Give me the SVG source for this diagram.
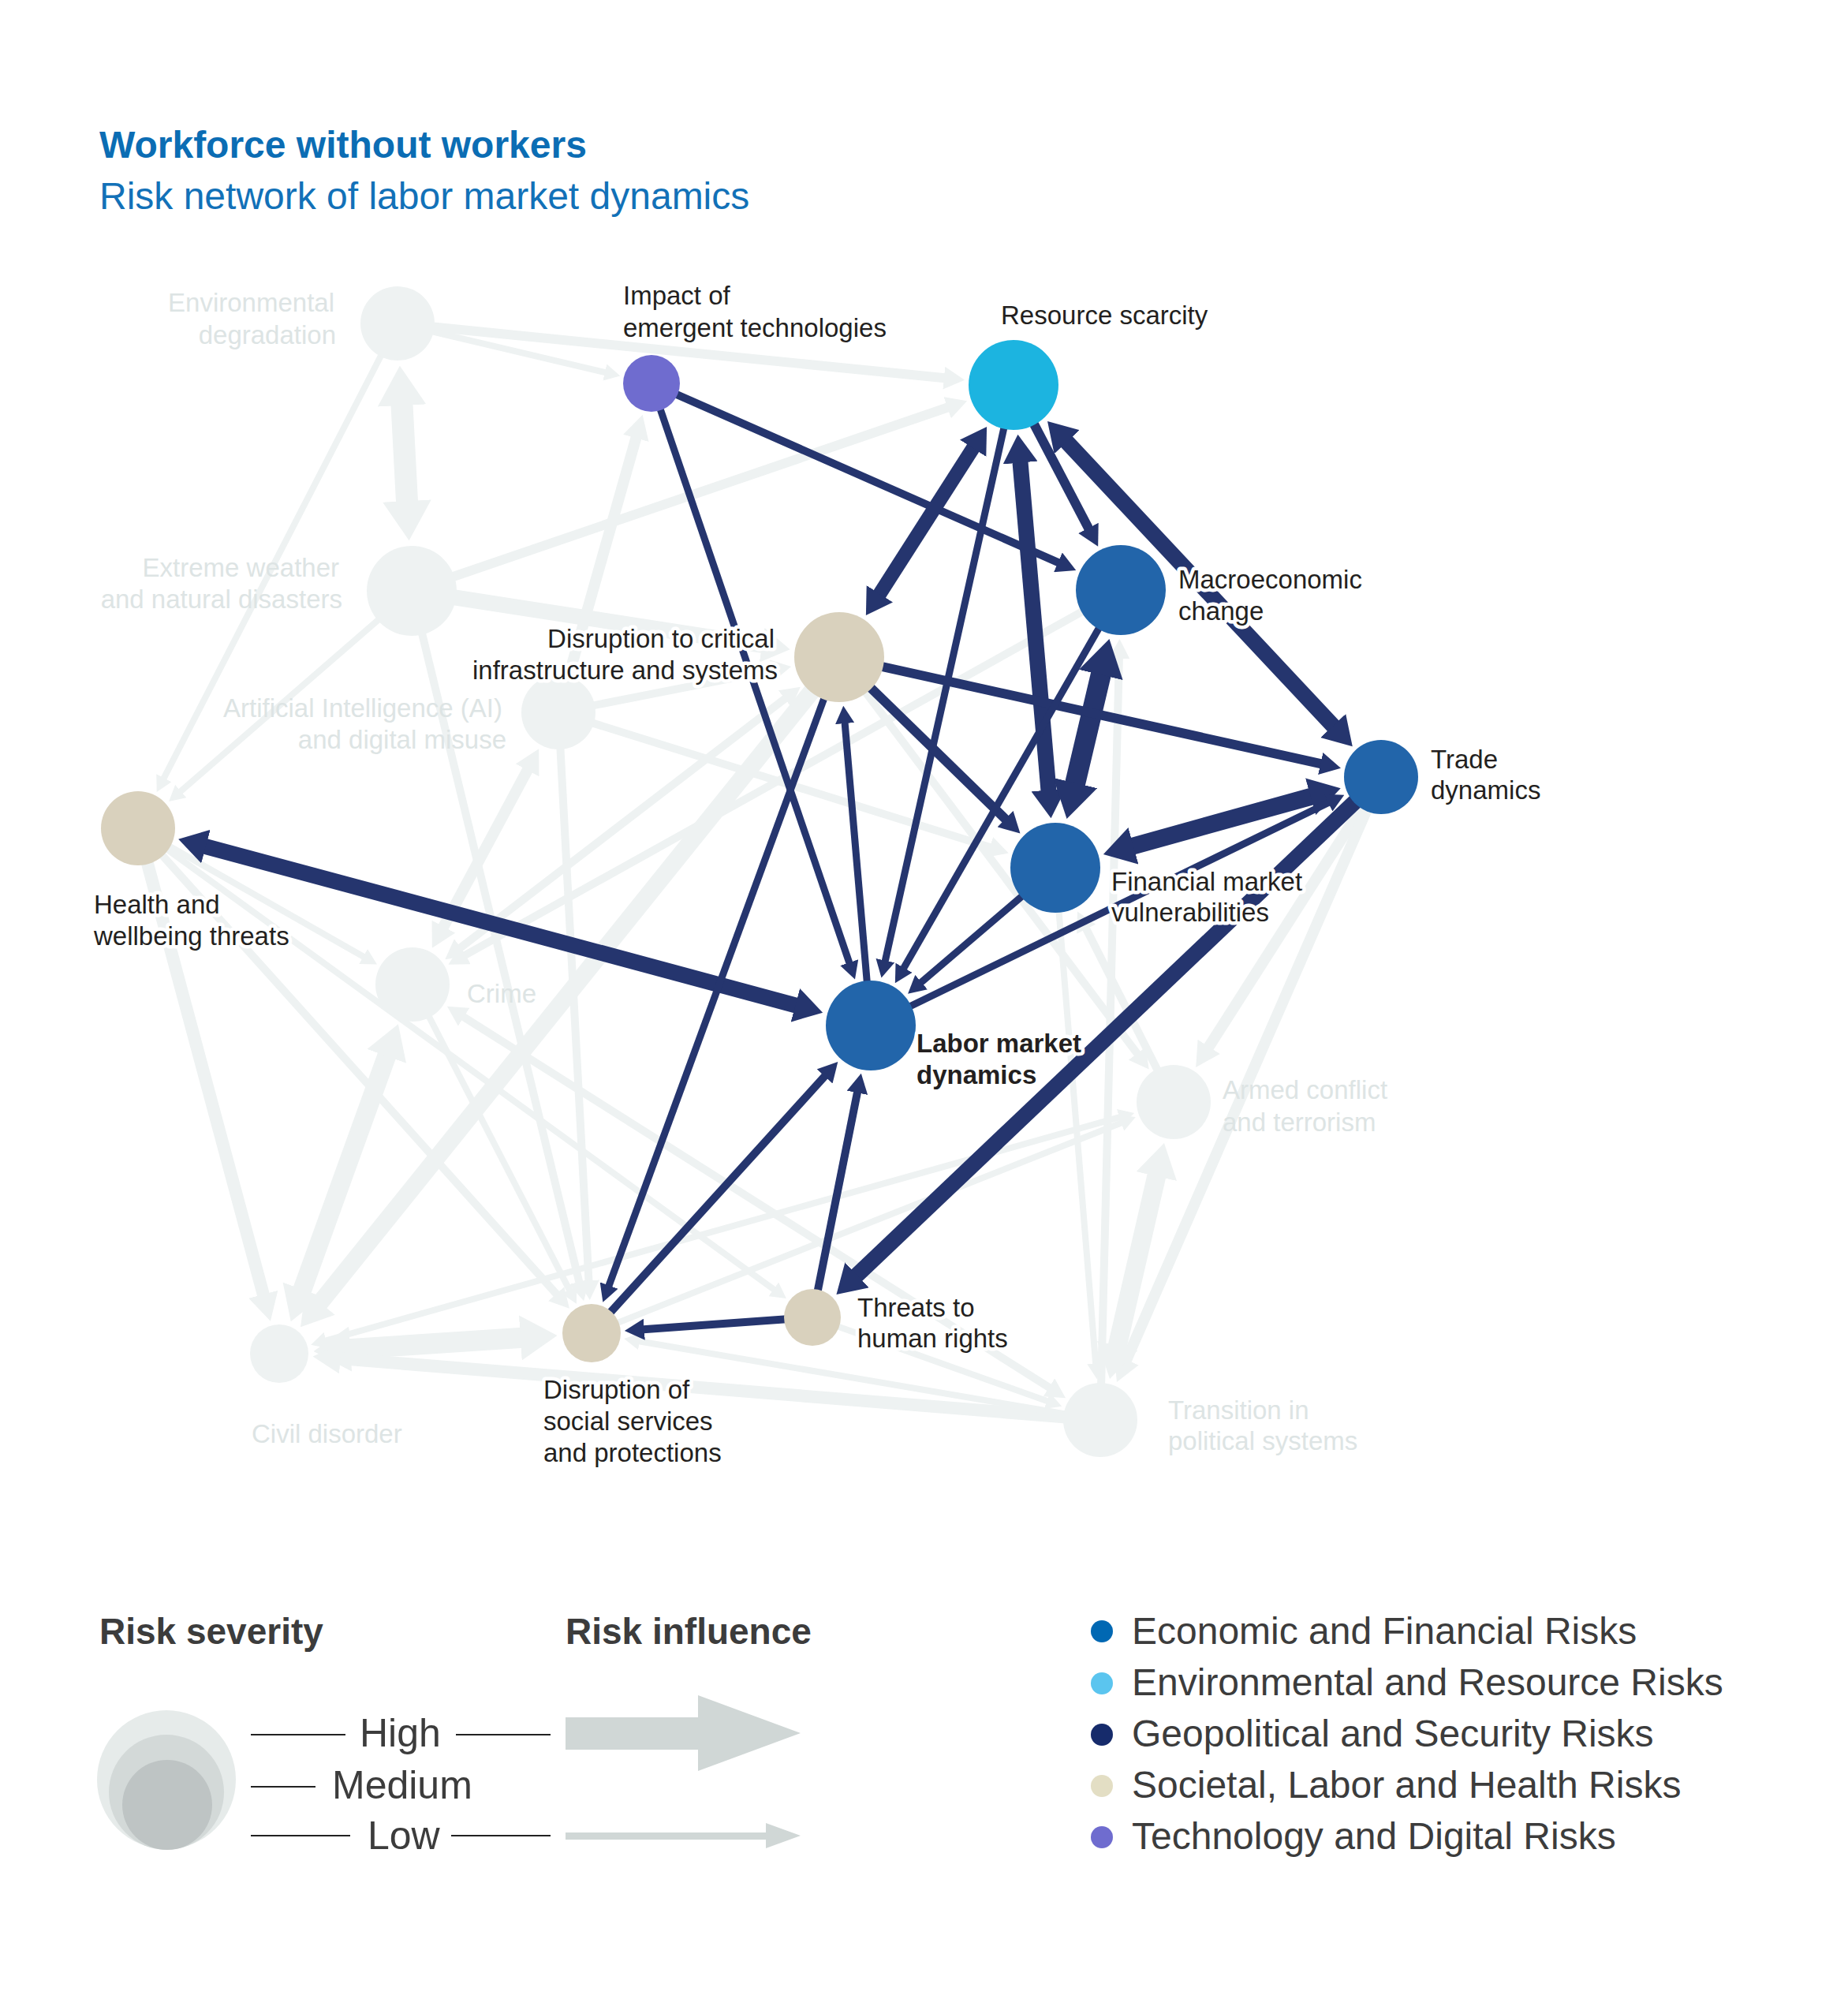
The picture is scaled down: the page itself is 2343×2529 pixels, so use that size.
<svg xmlns="http://www.w3.org/2000/svg" width="2343" height="2529" viewBox="0 0 2343 2529">
<style>
text{font-family:"Liberation Sans",Arial,sans-serif}
.t1{font-size:48px;font-weight:bold;fill:#0B6DB4}
.t2{font-size:48px;fill:#1271B8}
.lbl{font-size:33px;fill:#231F20;stroke:#fff;stroke-width:9px;stroke-linejoin:round;paint-order:stroke}
.lbb{font-weight:bold}
.lbg{font-size:33px;fill:#DDE4E4}
.g{stroke:#EEF2F2;fill:none}
.d{stroke:#25356E;fill:none}
.ng{fill:#EEF2F2}
.ne{fill:#2265AA}
.ns{fill:#D9D1BD}
.nr{fill:#1CB4E0}
.nt{fill:#6F6CCF}
.lh{font-size:46px;font-weight:bold;fill:#3C3C3C}
.lt{font-size:48px;fill:#3C3C3C}
.ls{font-size:50px;fill:#3C3C3C}
.rule{stroke:#222;stroke-width:2}
</style>
<defs>
<marker id="gS" viewBox="0 0 2.5 2.7" refX="0.1" refY="1.35" markerWidth="2.5" markerHeight="2.7" markerUnits="strokeWidth" orient="auto-start-reverse"><path d="M0,0L2.5,1.35L0,2.7Z" fill="#EEF2F2"/></marker>
<marker id="gM" viewBox="0 0 2.2 2.4" refX="0.1" refY="1.2" markerWidth="2.2" markerHeight="2.4" markerUnits="strokeWidth" orient="auto-start-reverse"><path d="M0,0L2.2,1.2L0,2.4Z" fill="#EEF2F2"/></marker>
<marker id="gL" viewBox="0 0 1.8 2.2" refX="0.1" refY="1.1" markerWidth="1.8" markerHeight="2.2" markerUnits="strokeWidth" orient="auto-start-reverse"><path d="M0,0L1.8,1.1L0,2.2Z" fill="#EEF2F2"/></marker>
<marker id="dS" viewBox="0 0 2.5 2.7" refX="0.1" refY="1.35" markerWidth="2.5" markerHeight="2.7" markerUnits="strokeWidth" orient="auto-start-reverse"><path d="M0,0L2.5,1.35L0,2.7Z" fill="#25356E"/></marker>
<marker id="dM" viewBox="0 0 2.2 2.4" refX="0.1" refY="1.2" markerWidth="2.2" markerHeight="2.4" markerUnits="strokeWidth" orient="auto-start-reverse"><path d="M0,0L2.2,1.2L0,2.4Z" fill="#25356E"/></marker>
<marker id="dL" viewBox="0 0 1.8 2.2" refX="0.1" refY="1.1" markerWidth="1.8" markerHeight="2.2" markerUnits="strokeWidth" orient="auto-start-reverse"><path d="M0,0L1.8,1.1L0,2.2Z" fill="#25356E"/></marker>
</defs>
<rect width="2343" height="2529" fill="#fff"/>

<g id="title">
<text class="t1" x="126" y="200">Workforce without workers</text>
<text class="t2" x="126" y="265">Risk network of labor market dynamics</text>
</g>

<g id="connectors">
<g id="grey-connectors" class="g">
<line x1="504" y1="410" x2="1198.0" y2="479.3" stroke-width="12" marker-end="url(#gM)"/>
<line x1="504" y1="410" x2="767.6" y2="472.2" stroke-width="8" marker-end="url(#gS)"/>
<line x1="509.4" y1="511.2" x2="516.1" y2="637.8" stroke-width="28" marker-start="url(#gL)" marker-end="url(#gL)"/>
<line x1="504" y1="410" x2="207.5" y2="986.9" stroke-width="8" marker-end="url(#gS)"/>
<line x1="522" y1="749" x2="1202.3" y2="516.3" stroke-width="12" marker-end="url(#gM)"/>
<line x1="522" y1="749" x2="968.1" y2="818.1" stroke-width="20" marker-end="url(#gL)"/>
<line x1="522" y1="749" x2="228.6" y2="1003.5" stroke-width="8" marker-end="url(#gS)"/>
<line x1="522" y1="749" x2="734.5" y2="1625.9" stroke-width="10" marker-end="url(#gS)"/>
<line x1="708" y1="903" x2="806.7" y2="554.1" stroke-width="14" marker-end="url(#gM)"/>
<line x1="708" y1="903" x2="979.6" y2="849.6" stroke-width="10" marker-end="url(#gS)"/>
<line x1="708" y1="903" x2="1255.9" y2="1074.3" stroke-width="10" marker-end="url(#gS)"/>
<line x1="708" y1="903" x2="746.5" y2="1624.1" stroke-width="10" marker-end="url(#gS)"/>
<line x1="561.7" y1="1175.9" x2="669.3" y2="975.1" stroke-width="14" marker-start="url(#gM)" marker-end="url(#gM)"/>
<line x1="175" y1="1050" x2="461.3" y2="1212.9" stroke-width="8" marker-end="url(#gS)"/>
<line x1="175" y1="1050" x2="334.2" y2="1642.4" stroke-width="16" marker-end="url(#gM)"/>
<line x1="175" y1="1050" x2="705.9" y2="1640.9" stroke-width="10" marker-end="url(#gS)"/>
<line x1="175" y1="1050" x2="981.4" y2="1634.8" stroke-width="8" marker-end="url(#gS)"/>
<line x1="1751" y1="985" x2="1532.0" y2="1328.1" stroke-width="14" marker-end="url(#gM)"/>
<line x1="1751" y1="985" x2="1427.7" y2="1725.0" stroke-width="14" marker-end="url(#gM)"/>
<line x1="1466.8" y1="1488.8" x2="1416.2" y2="1708.2" stroke-width="24" marker-start="url(#gL)" marker-end="url(#gL)"/>
<line x1="1395" y1="1800" x2="1418.9" y2="834.0" stroke-width="10" marker-end="url(#gS)"/>
<line x1="1338" y1="1100" x2="1389.2" y2="1729.2" stroke-width="8" marker-end="url(#gS)"/>
<line x1="1421" y1="748" x2="589.4" y2="1211.0" stroke-width="10" marker-end="url(#gS)"/>
<line x1="587.2" y1="1288.7" x2="1330.8" y2="1759.3" stroke-width="10" marker-start="url(#gS)" marker-end="url(#gS)"/>
<line x1="523" y1="1248" x2="722.1" y2="1635.7" stroke-width="8" marker-end="url(#gS)"/>
<line x1="491.0" y1="1336.6" x2="382.6" y2="1636.8" stroke-width="24" marker-start="url(#gL)" marker-end="url(#gL)"/>
<line x1="1064" y1="833" x2="404.5" y2="1653.2" stroke-width="22" marker-end="url(#gL)"/>
<line x1="412.7" y1="1699.5" x2="1419.7" y2="1416.2" stroke-width="8" marker-start="url(#gS)" marker-end="url(#gS)"/>
<line x1="750" y1="1690" x2="1422.0" y2="1423.2" stroke-width="8" marker-end="url(#gS)"/>
<line x1="441.6" y1="1710.2" x2="662.4" y2="1695.8" stroke-width="26" marker-start="url(#gL)" marker-end="url(#gL)"/>
<line x1="1395" y1="1800" x2="430.0" y2="1722.1" stroke-width="16" marker-end="url(#gM)"/>
<line x1="1395" y1="1800" x2="810.1" y2="1700.3" stroke-width="8" marker-end="url(#gS)"/>
<line x1="1030" y1="1670" x2="1328.1" y2="1776.2" stroke-width="8" marker-end="url(#gS)"/>
<line x1="1064" y1="833" x2="1442.3" y2="1336.3" stroke-width="10" marker-end="url(#gS)"/>
<line x1="1488" y1="1397" x2="1376.8" y2="1176.8" stroke-width="10" marker-end="url(#gS)"/>
<line x1="995.8" y1="885.3" x2="583.3" y2="1201.7" stroke-width="10" marker-start="url(#gS)" marker-end="url(#gS)"/>
</g>
<g id="dark-connectors" class="d">
<line x1="826" y1="486" x2="1077.0" y2="1221.0" stroke-width="9" marker-end="url(#dS)"/>
<line x1="826" y1="486" x2="1342.3" y2="713.3" stroke-width="10" marker-end="url(#dS)"/>
<line x1="1234.6" y1="566.7" x2="1114.4" y2="754.3" stroke-width="18" marker-start="url(#dL)" marker-end="url(#dL)"/>
<line x1="1285" y1="488" x2="1122.2" y2="1218.5" stroke-width="9" marker-end="url(#dS)"/>
<line x1="1293.4" y1="584.6" x2="1329.6" y2="1003.4" stroke-width="20" marker-start="url(#dL)" marker-end="url(#dL)"/>
<line x1="1285" y1="488" x2="1380.5" y2="670.5" stroke-width="12" marker-end="url(#dM)"/>
<line x1="1351.3" y1="558.8" x2="1691.5" y2="921.5" stroke-width="20" marker-start="url(#dL)" marker-end="url(#dL)"/>
<line x1="1396.3" y1="852.9" x2="1362.7" y2="995.1" stroke-width="26" marker-start="url(#dL)" marker-end="url(#dL)"/>
<line x1="1064" y1="833" x2="1675.4" y2="968.3" stroke-width="12" marker-end="url(#dM)"/>
<line x1="1064" y1="833" x2="1275.4" y2="1039.0" stroke-width="12" marker-end="url(#dM)"/>
<line x1="1663.7" y1="1009.3" x2="1434.9" y2="1073.0" stroke-width="22" marker-start="url(#dL)" marker-end="url(#dL)"/>
<line x1="1751" y1="985" x2="1085.1" y2="1617.7" stroke-width="20" marker-end="url(#dL)"/>
<line x1="259.0" y1="1072.6" x2="1010.3" y2="1274.8" stroke-width="20" marker-start="url(#dL)" marker-end="url(#dL)"/>
<line x1="1064" y1="833" x2="771.8" y2="1630.4" stroke-width="9" marker-end="url(#dS)"/>
<line x1="1104" y1="1300" x2="1071.1" y2="916.2" stroke-width="9" marker-end="url(#dS)"/>
<line x1="1421" y1="748" x2="1145.6" y2="1227.6" stroke-width="9" marker-end="url(#dS)"/>
<line x1="1338" y1="1100" x2="1167.5" y2="1245.7" stroke-width="9" marker-end="url(#dS)"/>
<line x1="1104" y1="1300" x2="1684.9" y2="1017.2" stroke-width="9" marker-end="url(#dS)"/>
<line x1="750" y1="1690" x2="1046.2" y2="1363.7" stroke-width="10" marker-end="url(#dS)"/>
<line x1="1030" y1="1670" x2="1087.1" y2="1384.3" stroke-width="10" marker-end="url(#dS)"/>
<line x1="1030" y1="1670" x2="815.8" y2="1685.3" stroke-width="10" marker-end="url(#dS)"/>
</g>
</g>

<g id="nodes">
<g id="node-environmental-degradation"><circle class="ng" cx="504" cy="410" r="47"/><text class="lbg" x="424" y="395" text-anchor="end">Environmental</text><text class="lbg" x="426" y="436" text-anchor="end">degradation</text></g>
<g id="node-extreme-weather"><circle class="ng" cx="522" cy="749" r="57"/><text class="lbg" x="430" y="731" text-anchor="end">Extreme weather</text><text class="lbg" x="434" y="771" text-anchor="end">and natural disasters</text></g>
<g id="node-ai"><circle class="ng" cx="708" cy="903" r="47"/><text class="lbg" x="637" y="909" text-anchor="end">Artificial Intelligence (AI)</text><text class="lbg" x="642" y="949" text-anchor="end">and digital misuse</text></g>
<g id="node-crime"><circle class="ng" cx="523" cy="1248" r="47"/><text class="lbg" x="592" y="1271">Crime</text></g>
<g id="node-armed-conflict"><circle class="ng" cx="1488" cy="1397" r="47"/><text class="lbg" x="1550" y="1393">Armed conflict</text><text class="lbg" x="1550" y="1434">and terrorism</text></g>
<g id="node-civil-disorder"><circle class="ng" cx="354" cy="1716" r="37"/><text class="lbg" x="319" y="1829">Civil disorder</text></g>
<g id="node-transition"><circle class="ng" cx="1395" cy="1800" r="47"/><text class="lbg" x="1481" y="1799">Transition in</text><text class="lbg" x="1481" y="1838">political systems</text></g>

<g id="node-emergent-tech"><circle class="nt" cx="826" cy="486" r="36"/><text class="lbl" x="790" y="386">Impact of</text><text class="lbl" x="790" y="427">emergent technologies</text></g>
<g id="node-resource-scarcity"><circle class="nr" cx="1285" cy="488" r="57"/><text class="lbl" x="1269" y="411">Resource scarcity</text></g>
<g id="node-macroeconomic"><circle class="ne" cx="1421" cy="748" r="57"/><text class="lbl" x="1494" y="746">Macroeconomic</text><text class="lbl" x="1494" y="786">change</text></g>
<g id="node-critical-infrastructure"><circle class="ns" cx="1064" cy="833" r="57"/><text class="lbl" x="982" y="821" text-anchor="end">Disruption to critical</text><text class="lbl" x="986" y="861" text-anchor="end">infrastructure and systems</text></g>
<g id="node-trade"><circle class="ne" cx="1751" cy="985" r="47"/><text class="lbl" x="1814" y="974">Trade</text><text class="lbl" x="1814" y="1013">dynamics</text></g>
<g id="node-health"><circle class="ns" cx="175" cy="1050" r="47"/><text class="lbl" x="119" y="1158">Health and</text><text class="lbl" x="119" y="1198">wellbeing threats</text></g>
<g id="node-financial"><circle class="ne" cx="1338" cy="1100" r="57"/><text class="lbl" x="1409" y="1129">Financial market</text><text class="lbl" x="1409" y="1168">vulnerabilities</text></g>
<g id="node-labor"><circle class="ne" cx="1104" cy="1300" r="57"/><text class="lbl lbb" x="1162" y="1334">Labor market</text><text class="lbl lbb" x="1162" y="1374">dynamics</text></g>
<g id="node-human-rights"><circle class="ns" cx="1030" cy="1670" r="36"/><text class="lbl" x="1087" y="1669">Threats to</text><text class="lbl" x="1087" y="1708">human rights</text></g>
<g id="node-social-services"><circle class="ns" cx="750" cy="1690" r="37"/><text class="lbl" x="689" y="1773">Disruption of</text><text class="lbl" x="689" y="1813">social services</text><text class="lbl" x="689" y="1853">and protections</text></g>
</g>

<g id="legend">
<text class="lh" x="126" y="2084">Risk severity</text>
<text class="lh" x="717" y="2084">Risk influence</text>
<circle cx="211" cy="2256" r="88" fill="#E6EBEA"/>
<circle cx="211" cy="2272" r="73" fill="#D3D9D8"/>
<circle cx="212" cy="2288" r="57" fill="#BEC4C4"/>
<line class="rule" x1="318" y1="2199" x2="438" y2="2199"/>
<text class="ls" x="456" y="2214">High</text>
<line class="rule" x1="578" y1="2199" x2="698" y2="2199"/>
<line class="rule" x1="318" y1="2265" x2="400" y2="2265"/>
<text class="ls" x="421" y="2280">Medium</text>
<line class="rule" x1="318" y1="2327" x2="444" y2="2327"/>
<text class="ls" x="466" y="2344">Low</text>
<line class="rule" x1="572" y1="2327" x2="698" y2="2327"/>
<polygon points="717,2177 885,2177 885,2149 1015,2197 885,2245 885,2218 717,2218" fill="#D0D7D6"/>
<polygon points="717,2323 971,2323 971,2311 1015,2327 971,2343 971,2332 717,2332" fill="#D0D7D6"/>
<circle cx="1397" cy="2068" r="14" fill="#0068B3"/>
<text class="lt" x="1435" y="2084">Economic and Financial Risks</text>
<circle cx="1397" cy="2134" r="14" fill="#5BC5EF"/>
<text class="lt" x="1435" y="2149">Environmental and Resource Risks</text>
<circle cx="1397" cy="2199" r="14" fill="#162B6B"/>
<text class="lt" x="1435" y="2214">Geopolitical and Security Risks</text>
<circle cx="1397" cy="2264" r="14" fill="#E3DEC4"/>
<text class="lt" x="1435" y="2279">Societal, Labor and Health Risks</text>
<circle cx="1397" cy="2329" r="14" fill="#6F6CCF"/>
<text class="lt" x="1435" y="2344">Technology and Digital Risks</text>
</g>
</svg>
